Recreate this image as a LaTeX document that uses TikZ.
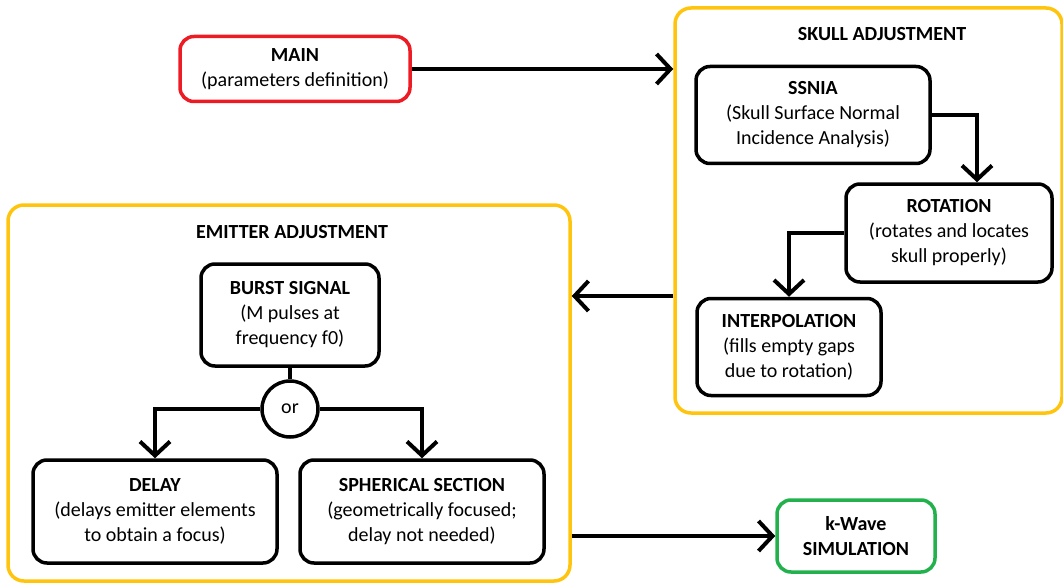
\documentclass[tikz,border=0pt]{standalone}
\usepackage{fontspec}
\setmainfont{Carlito}
\usetikzlibrary{arrows.meta}

\definecolor{mainred}{RGB}{237,28,36}
\definecolor{groupyellow}{RGB}{255,196,14}
\definecolor{simgreen}{RGB}{34,177,76}

\begin{document}
\begin{tikzpicture}[x=1pt,y=-1pt,
    box/.style={draw,line width=3.5pt,rounded corners=14pt,align=center,inner sep=0pt},
    group/.style={draw=groupyellow,line width=3.5pt,rounded corners=16pt,inner sep=0pt},
    arr/.style={line width=4pt,-{Straight Barb[length=14pt,width=30pt]}},
    link/.style={line width=4pt}]
    \tikzstyle{every node}=[font=\fontsize{20}{25}\selectfont]
    \useasboundingbox (0,0) rectangle (1063,583);

    % groups
    \node[group,minimum width=387pt,minimum height=405pt] (skull) at (868.5,210.5) {};
    \node at (882,34) {\textbf{SKULL ADJUSTMENT}};
    \node[group,minimum width=562pt,minimum height=376pt] (emitter) at (289,393) {};
    \node at (292,232) {\textbf{EMITTER ADJUSTMENT}};

    % boxes
    \node[box,draw=mainred,minimum width=230pt,minimum height=65pt] (main) at (295,69)
      {\textbf{MAIN}\\(parameters definition)};
    \node[box,minimum width=234pt,minimum height=97pt] (ssnia) at (813,115)
      {\textbf{SSNIA}\\(Skull Surface Normal\\Incidence Analysis)};
    \node[box,minimum width=206pt,minimum height=98pt] (rot) at (949,233)
      {\textbf{ROTATION}\\(rotates and locates\\skull properly)};
    \node[box,minimum width=184pt,minimum height=97pt] (interp) at (789,347)
      {\textbf{INTERPOLATION}\\(fills empty gaps\\due to rotation)};
    \node[box,minimum width=178pt,minimum height=102pt] (burst) at (290,315)
      {\textbf{BURST SIGNAL}\\(M pulses at\\frequency f0)};
    \node[circle,draw,line width=3.5pt,minimum size=56pt,inner sep=0pt] (or) at (290,409) {or};
    \node[box,minimum width=244pt,minimum height=103pt] (delay) at (155,511.5)
      {\textbf{DELAY}\\(delays emitter elements\\to obtain a focus)};
    \node[box,minimum width=244pt,minimum height=103pt] (sph) at (422,511.5)
      {\textbf{SPHERICAL SECTION}\\(geometrically focused;\\delay not needed)};
    \node[box,draw=simgreen,minimum width=158pt,minimum height=72pt] (kwave) at (856,536)
      {\textbf{k-Wave}\\\textbf{SIMULATION}};

    % connectors
    \draw[arr] (main.east) -- (main.east -| skull.west);
    \draw[arr] (ssnia.east) -| ([xshift=28pt]rot.north);
    \draw[arr] (rot.west) -| (interp.north);
    \draw[arr] (skull.west |- 0,296) -- (emitter.east |- 0,296);
    \draw[link] (burst.south) -- (or.north);
    \draw[arr] (or.west) -| (delay.north);
    \draw[arr] (or.east) -| (sph.north);
    \draw[arr] (emitter.east |- kwave.west) -- (kwave.west);
\end{tikzpicture}
\end{document}
